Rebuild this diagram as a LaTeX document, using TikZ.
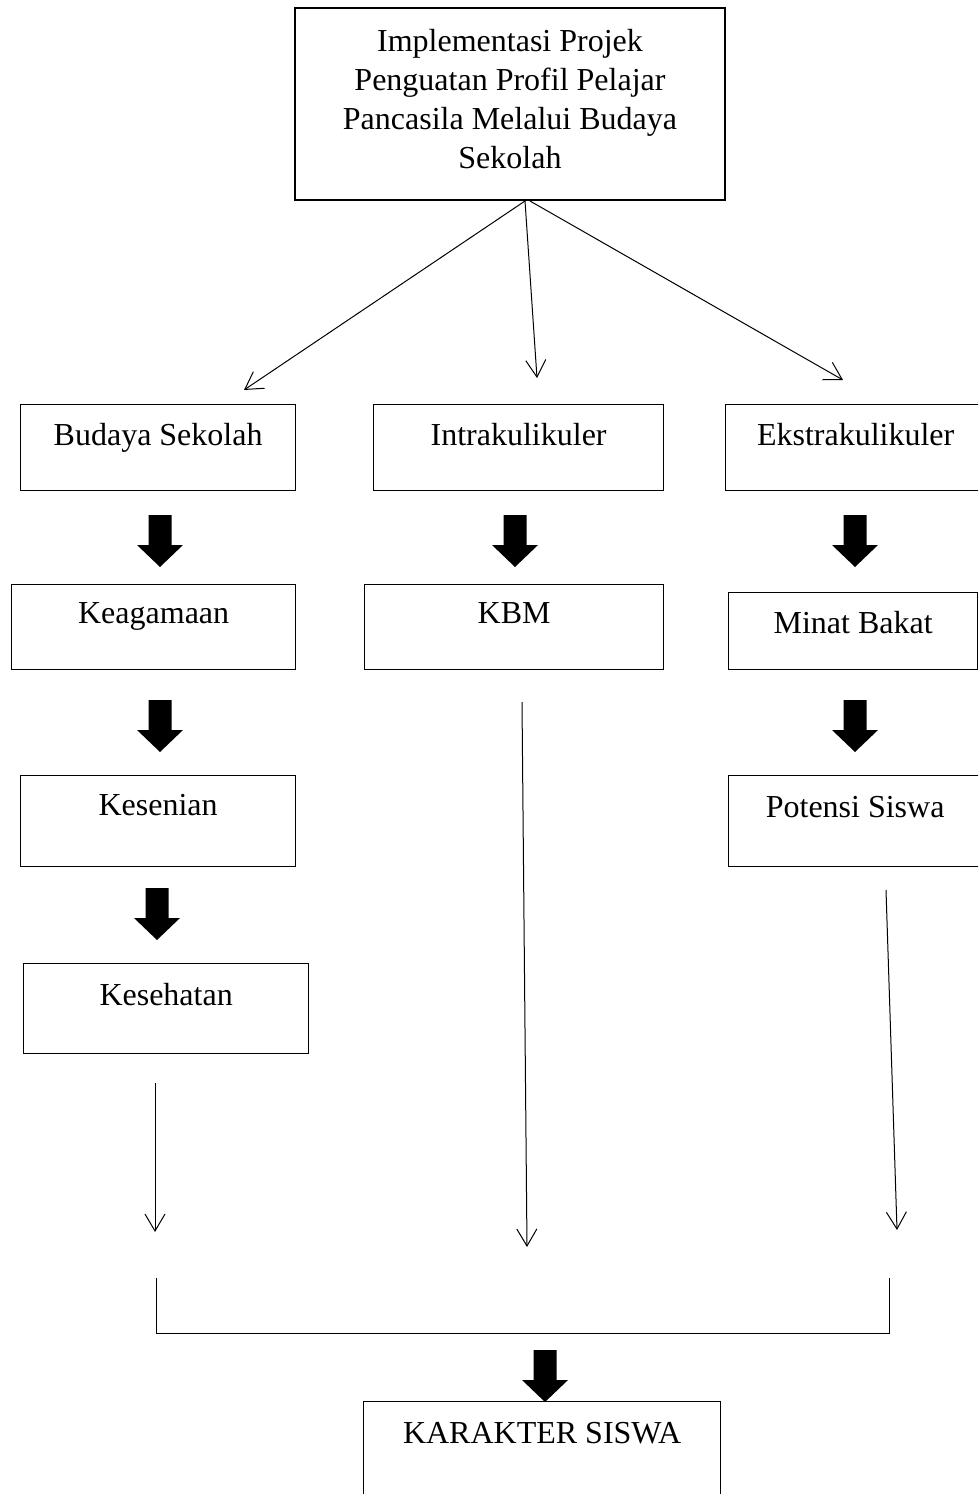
\documentclass[tikz,border=0pt]{standalone}
\usepackage{fontspec}
\setmainfont{Liberation Serif}
\usetikzlibrary{arrows.meta}
\begin{document}
\begin{tikzpicture}[x=1pt,y=-1pt,
  box/.style={draw,line width=1.3pt,inner sep=0pt,anchor=north west,
    font=\fontsize{32}{39}\selectfont},
  txt/.style={inner sep=0pt,font=\fontsize{32}{39}\selectfont},
  thinarrow/.style={line width=1pt,-{Straight Barb[length=17pt,width=20pt,line width=1pt]}},
  bracket/.style={line width=1pt},
  blk/.pic={\fill (-11.5,0) -- (11.5,0) -- (11.5,30) -- (23,30) -- (0,52) -- (-23,30) -- (-11.5,30) -- cycle;}
]
\useasboundingbox (0,0) rectangle (978,1494);
\clip (0,0) rectangle (978,1494);
% top box
\node[box,anchor=center,minimum width=430pt,minimum height=192pt] (top) at (510,104) {};
\node[txt,align=center] (toptext) at (510,99) {Implementasi Projek\\Penguatan Profil Pelajar\\Pancasila Melalui Budaya\\Sekolah};
% row 1
\node[box,minimum width=275pt,text height=41pt,text depth=45pt] (bs) at (20,404) {\makebox[275pt]{Budaya Sekolah}};
\node[box,minimum width=290pt,text height=41pt,text depth=45pt] (intra) at (373,404) {\makebox[290pt]{Intrakulikuler}};
\node[box,minimum width=252pt,text height=41pt,text depth=45pt] (ekstra) at (725,404) {\makebox[260pt]{Ekstrakulikuler}};
% row 2
\node[box,minimum width=284pt,text height=39pt,text depth=46pt] (keag) at (11,584) {\makebox[284pt]{Keagamaan}};
\node[box,minimum width=299pt,text height=39pt,text depth=46pt] (kbm) at (364,584) {\makebox[299pt]{KBM}};
\node[box,minimum width=249pt,text height=41pt,text depth=36pt] (minat) at (728,592) {\makebox[249pt]{Minat Bakat}};
% row 3
\node[box,minimum width=275pt,text height=40pt,text depth=51pt] (kesen) at (20,775) {\makebox[275pt]{Kesenian}};
\node[box,minimum width=249pt,text height=42pt,text depth=49pt] (potensi) at (728,775) {\makebox[253pt]{Potensi Siswa}};
% row 4
\node[box,minimum width=285pt,text height=42pt,text depth=48pt] (keseh) at (23,963) {\makebox[285pt]{Kesehatan}};
% result
\node[box,minimum width=357pt,text height=42pt,text depth=80pt] (kar) at (363,1401) {\makebox[357pt]{KARAKTER SISWA}};
% coordinates
\coordinate (o1) at (525,201);
\coordinate (o3) at (530,201);
\coordinate (t1) at (244,390);
\coordinate (t2) at (537,378);
\coordinate (t3) at (843,380);
\coordinate (a1) at (155,1083);
\coordinate (b1) at (155,1232);
\coordinate (a2) at (522,702);
\coordinate (b2) at (527,1247);
\coordinate (a3) at (886,890);
\coordinate (b3) at (897,1230);
\coordinate (c1) at (156,1278);
\coordinate (c2) at (889,1278);
\coordinate (c3) at (889,1333);
% thin arrows
\draw[thinarrow] (o1) -- (t1);
\draw[thinarrow] (o1) -- (t2);
\draw[thinarrow] (o3) -- (t3);
\draw[thinarrow] (a1) -- (b1);
\draw[thinarrow] (a2) -- (b2);
\draw[thinarrow] (a3) -- (b3);
\draw[bracket] (c1) |- (c3) -- (c2);
% block arrows
\pic at (160,515) {blk};
\pic at (515,515) {blk};
\pic at (855,515) {blk};
\pic at (160,700) {blk};
\pic at (855,700) {blk};
\pic at (157,888) {blk};
\pic at (545,1350) {blk};
\end{tikzpicture}
\end{document}
